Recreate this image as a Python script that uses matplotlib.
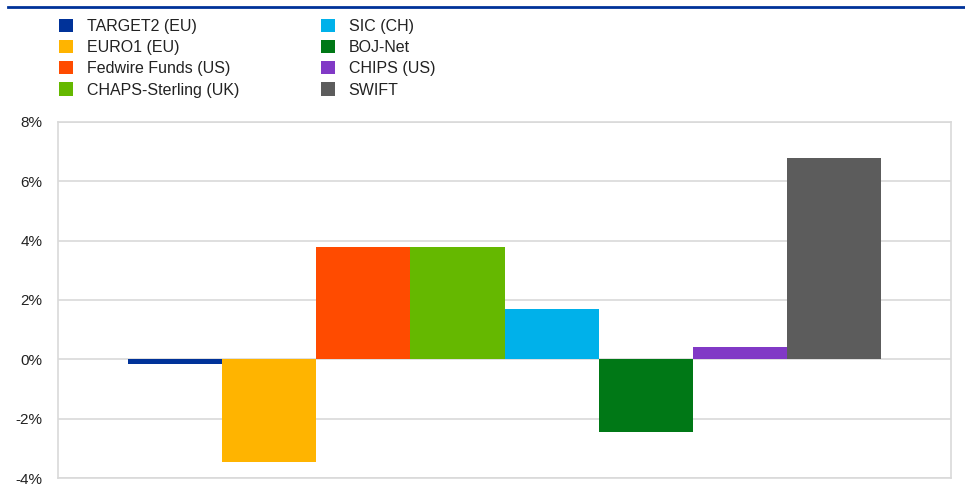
import matplotlib
matplotlib.use("Agg")
import matplotlib.pyplot as plt
from matplotlib.lines import Line2D
from matplotlib.ticker import FuncFormatter

plt.rcParams['font.family'] = ['Liberation Sans', 'DejaVu Sans']

systems = ["TARGET2 (EU)", "EURO1 (EU)", "Fedwire Funds (US)", "CHAPS-Sterling (UK)",
           "SIC (CH)", "BOJ-Net", "CHIPS (US)", "SWIFT"]
values = [-0.15, -3.45, 3.78, 3.78, 1.68, -2.45, 0.40, 6.80]
colors = ["#003299", "#FFB400", "#FF4B00", "#65B800",
          "#00B1EA", "#007816", "#8139C6", "#5C5C5C"]
yticks = [-4, -2, 0, 2, 4, 6, 8]

fig = plt.figure(figsize=(9.65, 4.99), dpi=100)
ax = fig.add_axes([58/965, 1-478/499, (951-58)/965, (478-122)/499])

n = len(systems)
group_width = 0.843
bw = group_width / n
handles = []
for i, (s, v, c) in enumerate(zip(systems, values, colors)):
    x = -group_width/2 + bw*(i+0.5)
    b = ax.bar(x, v, width=bw, color=c, label=s, linewidth=0, zorder=3)
    handles.append(b)

ax.set_xlim(-0.5, 0.5)
ax.set_ylim(-4, 8)
ax.set_yticks(yticks)
ax.yaxis.set_major_formatter(FuncFormatter(lambda v, p: f"{int(v)}%"))
ax.set_xticks([])
ax.tick_params(axis='y', length=0, pad=11, labelsize=11, labelcolor="#222222")
ax.grid(axis='y', color="#d9d9d9", linewidth=1.2, zorder=0)
for sp in ax.spines.values():
    sp.set_color("#d9d9d9")
    sp.set_linewidth(1.2)

fig.add_artist(Line2D([8/965, 1.0], [1-7/499, 1-7/499], color="#003299", linewidth=2,
                      transform=fig.transFigure))

leg = fig.legend(handles=handles, labels=systems, ncol=2, loc='upper left',
                 bbox_to_anchor=(59/965, 1-18.5/499), frameon=False, fontsize=11.5,
                 handlelength=0.9, handleheight=0.9, handletextpad=0.85,
                 labelspacing=0.385, columnspacing=5.1, borderaxespad=0, borderpad=0)
for t in leg.get_texts():
    t.set_color("#222222")

fig.savefig("out.png", dpi=100)
